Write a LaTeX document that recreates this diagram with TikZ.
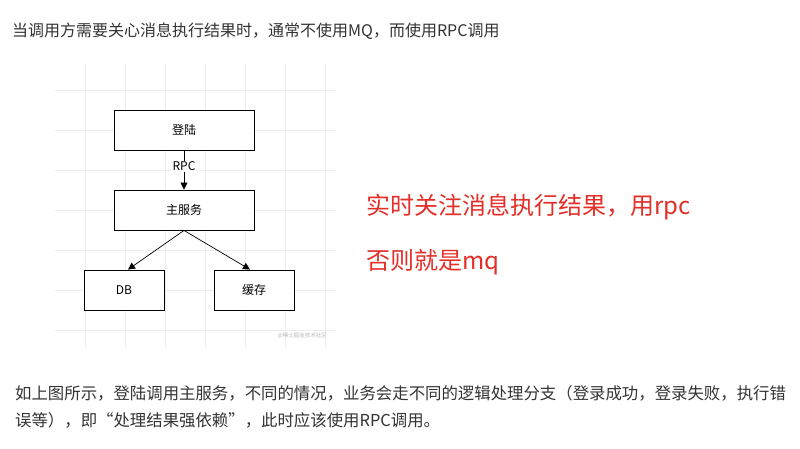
\documentclass[tikz,border=0pt]{standalone}
\usepackage{fontspec}
\setmainfont{Noto Sans CJK SC}
\usetikzlibrary{arrows.meta}
\definecolor{txt}{RGB}{51,51,51}
\definecolor{redtxt}{RGB}{228,46,40}
\definecolor{gridc}{RGB}{238,238,238}
\begin{document}
\begin{tikzpicture}[x=1pt,y=-1pt,
  box/.style={draw=black,line width=0.9pt,fill=white,minimum width=140pt,minimum height=40pt,inner sep=0pt,font=\fontsize{12}{14}\selectfont},
  sbox/.style={box,minimum width=80pt},
  para/.style={anchor=west,inner sep=0pt,text=txt,font=\fontsize{16.4}{20}\selectfont},
  redt/.style={anchor=west,inner sep=0pt,text=redtxt,font=\fontsize{24}{28}\selectfont},
  conn/.style={-{Triangle[length=7pt,width=7pt]},line width=0.7pt}]
\useasboundingbox (0,0) rectangle (800,449);
\fill[white] (0,0) rectangle (800,449);
% grid background
\foreach \gx in {85,125,...,325} \draw[gridc,line width=0.6pt] (\gx,63) -- (\gx,347);
\foreach \gy in {90,130,...,330} \draw[gridc,line width=0.6pt] (55,\gy) -- (335,\gy);
% texts
\node[para,font=\fontsize{16}{20}\selectfont] (t1) at (12,31) {当调用方需要关心消息执行结果时，通常不使用MQ，而使用RPC调用};
\node[para] (b1) at (15,393) {如上图所示，登陆调用主服务，不同的情况，业务会走不同的逻辑处理分支（登录成功，登录失败，执行错};
\node[para] (b2) at (15,420) {误等），即“处理结果强依赖”，此时应该使用RPC调用。};
\node[redt] (r1) at (366,207) {实时关注消息执行结果，用rpc};
\node[redt] (r2) at (366,262) {否则就是mq};
% diagram
\node[box] (login) at (184,130) {登陆};
\node[box] (main) at (184,210) {主服务};
\node[sbox] (db) at (124,290) {DB};
\node[sbox] (cache) at (254,290) {缓存};
\draw[conn] (login.south) -- node[fill=white,inner sep=1pt,font=\fontsize{12}{14}\selectfont,pos=0.4] (rpc) {RPC} (main.north);
\draw[conn] (main.south) -- ([xshift=4pt]db.north);
\draw[conn] (main.south) -- ([xshift=-4pt]cache.north);
\node[inner sep=0pt,text=black!28,font=\fontsize{5.5}{6}\selectfont,anchor=east] (wm) at (327,336) {@稀土掘金技术社区};
\end{tikzpicture}
\end{document}
